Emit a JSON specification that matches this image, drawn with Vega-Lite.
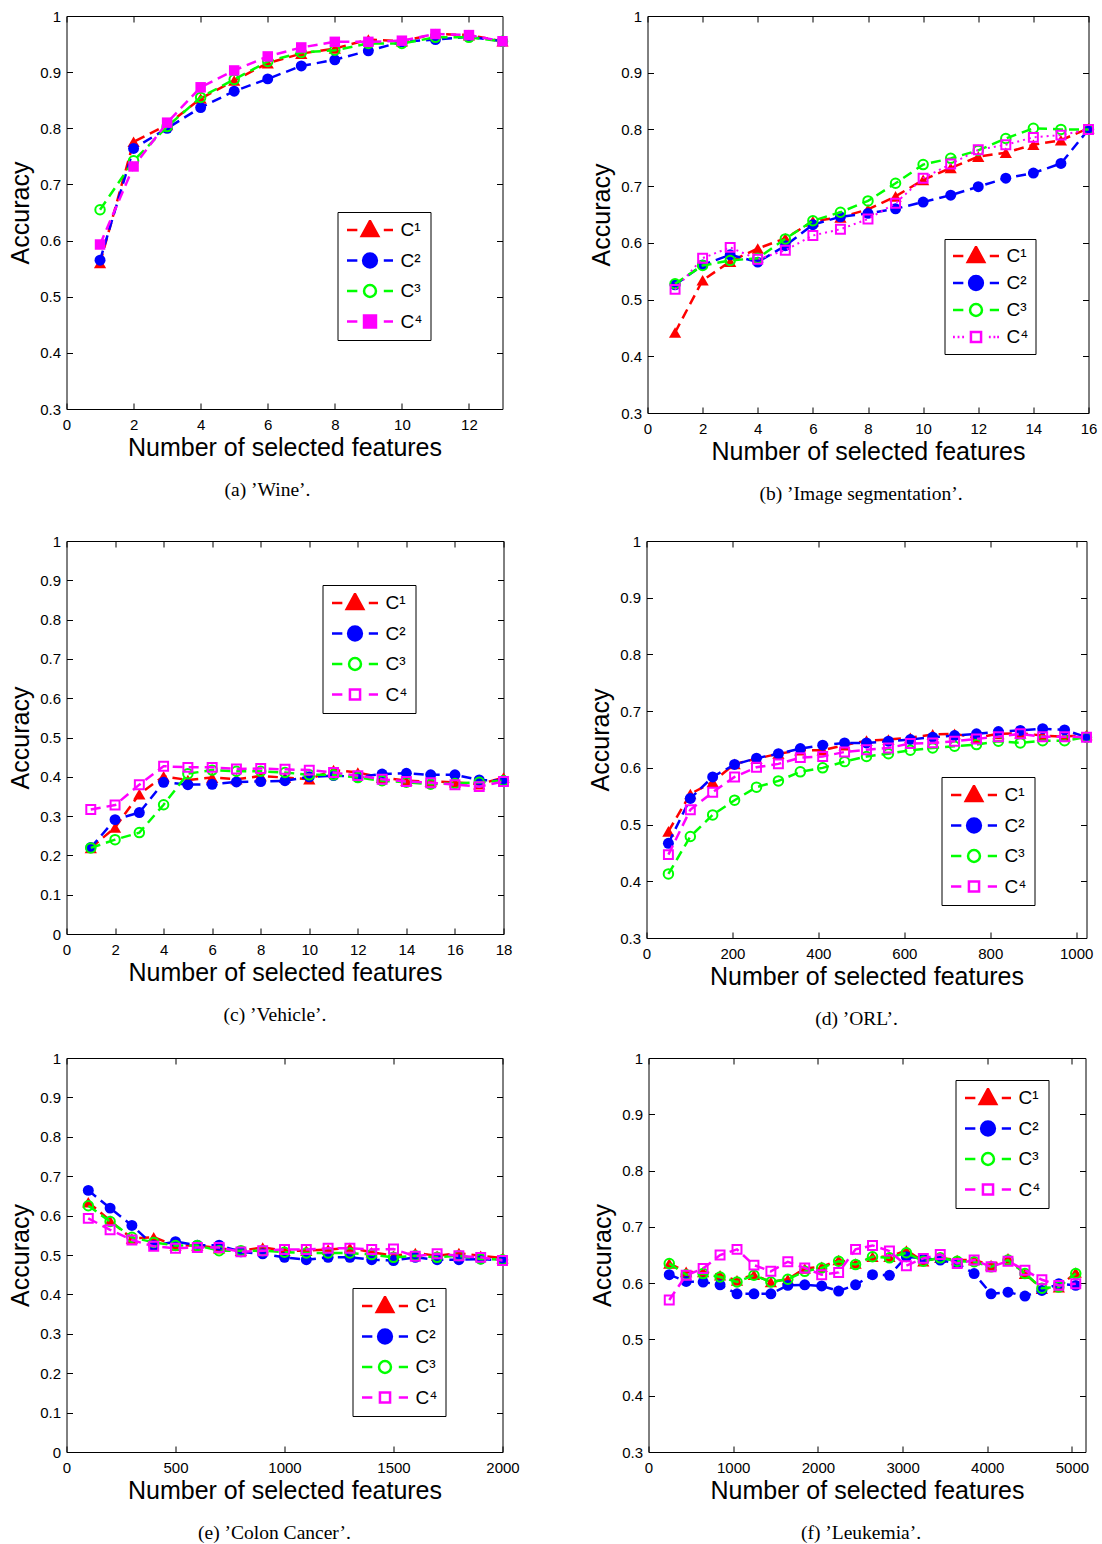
{
"$schema":"https://vega.github.io/schema/vega-lite/v6.json",
"background":"white",
"padding":{"left":7.5,"top":8,"right":5,"bottom":5},
"config":{
 "view":{"stroke":"black","strokeWidth":1},
 "axis":{"domain":false,"grid":false,"tickColor":"black","tickSize":-6,"tickWidth":1,"labelColor":"black","labelFont":"Liberation Sans","labelFontSize":15,"titleFont":"Liberation Sans","titleFontSize":25,"titleFontWeight":"normal","titleColor":"black","labelFlush":false,"labelOverlap":false,"labelBound":false},
 "axisBottom":{"labelPadding":14,"titlePadding":3},
 "axisLeft":{"labelPadding":12,"titlePadding":6.5},
 "title":{"font":"Liberation Serif","fontSize":19.5,"fontWeight":"normal","color":"black","orient":"bottom","frame":"group","anchor":"middle","offset":21},
 "legend":{"orient":"none","symbolSize":2116,"symbolStrokeWidth":2.5,"symbolOpacity":1,"clipHeight":20,"rowPadding":10.5,"labelFontSize":19,"labelFont":"Liberation Sans","labelColor":"black","labelOffset":6,"strokeColor":"black","fillColor":"white","padding":8,"cornerRadius":0}
},
"datasets":{
"a":[
{"x":1,"s":"C1","y":0.56},{"x":2,"s":"C1","y":0.776},{"x":3,"s":"C1","y":0.806},{"x":4,"s":"C1","y":0.853},{"x":5,"s":"C1","y":0.885},{"x":6,"s":"C1","y":0.916},{"x":7,"s":"C1","y":0.933},{"x":8,"s":"C1","y":0.942},{"x":9,"s":"C1","y":0.958},{"x":10,"s":"C1","y":0.955},{"x":11,"s":"C1","y":0.968},{"x":12,"s":"C1","y":0.966},{"x":13,"s":"C1","y":0.955},
{"x":1,"s":"C2","y":0.565},{"x":2,"s":"C2","y":0.764},{"x":3,"s":"C2","y":0.80},{"x":4,"s":"C2","y":0.837},{"x":5,"s":"C2","y":0.866},{"x":6,"s":"C2","y":0.888},{"x":7,"s":"C2","y":0.911},{"x":8,"s":"C2","y":0.922},{"x":9,"s":"C2","y":0.938},{"x":10,"s":"C2","y":0.954},{"x":11,"s":"C2","y":0.958},{"x":12,"s":"C2","y":0.963},{"x":13,"s":"C2","y":0.955},
{"x":1,"s":"C3","y":0.655},{"x":2,"s":"C3","y":0.742},{"x":3,"s":"C3","y":0.803},{"x":4,"s":"C3","y":0.855},{"x":5,"s":"C3","y":0.887},{"x":6,"s":"C3","y":0.919},{"x":7,"s":"C3","y":0.935},{"x":8,"s":"C3","y":0.939},{"x":9,"s":"C3","y":0.951},{"x":10,"s":"C3","y":0.951},{"x":11,"s":"C3","y":0.962},{"x":12,"s":"C3","y":0.962},{"x":13,"s":"C3","y":0.955},
{"x":1,"s":"C4","y":0.593},{"x":2,"s":"C4","y":0.732},{"x":3,"s":"C4","y":0.81},{"x":4,"s":"C4","y":0.873},{"x":5,"s":"C4","y":0.903},{"x":6,"s":"C4","y":0.928},{"x":7,"s":"C4","y":0.944},{"x":8,"s":"C4","y":0.954},{"x":9,"s":"C4","y":0.954},{"x":10,"s":"C4","y":0.956},{"x":11,"s":"C4","y":0.968},{"x":12,"s":"C4","y":0.966},{"x":13,"s":"C4","y":0.955}
],
"b":[
{"x":1,"s":"C1","y":0.442},{"x":2,"s":"C1","y":0.534},{"x":3,"s":"C1","y":0.567},{"x":4,"s":"C1","y":0.590},{"x":5,"s":"C1","y":0.608},{"x":6,"s":"C1","y":0.638},{"x":7,"s":"C1","y":0.645},{"x":8,"s":"C1","y":0.659},{"x":9,"s":"C1","y":0.682},{"x":10,"s":"C1","y":0.711},{"x":11,"s":"C1","y":0.732},{"x":12,"s":"C1","y":0.752},{"x":13,"s":"C1","y":0.759},{"x":14,"s":"C1","y":0.773},{"x":15,"s":"C1","y":0.781},{"x":16,"s":"C1","y":0.802},
{"x":1,"s":"C2","y":0.526},{"x":2,"s":"C2","y":0.561},{"x":3,"s":"C2","y":0.579},{"x":4,"s":"C2","y":0.566},{"x":5,"s":"C2","y":0.595},{"x":6,"s":"C2","y":0.632},{"x":7,"s":"C2","y":0.646},{"x":8,"s":"C2","y":0.652},{"x":9,"s":"C2","y":0.660},{"x":10,"s":"C2","y":0.672},{"x":11,"s":"C2","y":0.684},{"x":12,"s":"C2","y":0.699},{"x":13,"s":"C2","y":0.714},{"x":14,"s":"C2","y":0.723},{"x":15,"s":"C2","y":0.740},{"x":16,"s":"C2","y":0.800},
{"x":1,"s":"C3","y":0.528},{"x":2,"s":"C3","y":0.560},{"x":3,"s":"C3","y":0.569},{"x":4,"s":"C3","y":0.573},{"x":5,"s":"C3","y":0.607},{"x":6,"s":"C3","y":0.639},{"x":7,"s":"C3","y":0.654},{"x":8,"s":"C3","y":0.674},{"x":9,"s":"C3","y":0.705},{"x":10,"s":"C3","y":0.738},{"x":11,"s":"C3","y":0.749},{"x":12,"s":"C3","y":0.763},{"x":13,"s":"C3","y":0.784},{"x":14,"s":"C3","y":0.802},{"x":15,"s":"C3","y":0.800},{"x":16,"s":"C3","y":0.800},
{"x":1,"s":"C4","y":0.518},{"x":2,"s":"C4","y":0.573},{"x":3,"s":"C4","y":0.592},{"x":4,"s":"C4","y":0.571},{"x":5,"s":"C4","y":0.587},{"x":6,"s":"C4","y":0.613},{"x":7,"s":"C4","y":0.624},{"x":8,"s":"C4","y":0.642},{"x":9,"s":"C4","y":0.670},{"x":10,"s":"C4","y":0.714},{"x":11,"s":"C4","y":0.739},{"x":12,"s":"C4","y":0.764},{"x":13,"s":"C4","y":0.773},{"x":14,"s":"C4","y":0.786},{"x":15,"s":"C4","y":0.790},{"x":16,"s":"C4","y":0.800}
],
"c":[
{"x":1,"s":"C1","y":0.219},{"x":2,"s":"C1","y":0.271},{"x":3,"s":"C1","y":0.356},{"x":4,"s":"C1","y":0.401},{"x":5,"s":"C1","y":0.392},{"x":6,"s":"C1","y":0.398},{"x":7,"s":"C1","y":0.394},{"x":8,"s":"C1","y":0.402},{"x":9,"s":"C1","y":0.398},{"x":10,"s":"C1","y":0.394},{"x":11,"s":"C1","y":0.417},{"x":12,"s":"C1","y":0.411},{"x":13,"s":"C1","y":0.398},{"x":14,"s":"C1","y":0.390},{"x":15,"s":"C1","y":0.388},{"x":16,"s":"C1","y":0.386},{"x":17,"s":"C1","y":0.381},{"x":18,"s":"C1","y":0.398},
{"x":1,"s":"C2","y":0.220},{"x":2,"s":"C2","y":0.291},{"x":3,"s":"C2","y":0.309},{"x":4,"s":"C2","y":0.386},{"x":5,"s":"C2","y":0.380},{"x":6,"s":"C2","y":0.381},{"x":7,"s":"C2","y":0.387},{"x":8,"s":"C2","y":0.388},{"x":9,"s":"C2","y":0.390},{"x":10,"s":"C2","y":0.400},{"x":11,"s":"C2","y":0.403},{"x":12,"s":"C2","y":0.400},{"x":13,"s":"C2","y":0.407},{"x":14,"s":"C2","y":0.409},{"x":15,"s":"C2","y":0.405},{"x":16,"s":"C2","y":0.405},{"x":17,"s":"C2","y":0.392},{"x":18,"s":"C2","y":0.390},
{"x":1,"s":"C3","y":0.219},{"x":2,"s":"C3","y":0.240},{"x":3,"s":"C3","y":0.258},{"x":4,"s":"C3","y":0.329},{"x":5,"s":"C3","y":0.408},{"x":6,"s":"C3","y":0.417},{"x":7,"s":"C3","y":0.414},{"x":8,"s":"C3","y":0.414},{"x":9,"s":"C3","y":0.411},{"x":10,"s":"C3","y":0.405},{"x":11,"s":"C3","y":0.405},{"x":12,"s":"C3","y":0.398},{"x":13,"s":"C3","y":0.390},{"x":14,"s":"C3","y":0.386},{"x":15,"s":"C3","y":0.381},{"x":16,"s":"C3","y":0.383},{"x":17,"s":"C3","y":0.386},{"x":18,"s":"C3","y":0.390},
{"x":1,"s":"C4","y":0.317},{"x":2,"s":"C4","y":0.328},{"x":3,"s":"C4","y":0.380},{"x":4,"s":"C4","y":0.427},{"x":5,"s":"C4","y":0.424},{"x":6,"s":"C4","y":0.424},{"x":7,"s":"C4","y":0.420},{"x":8,"s":"C4","y":0.421},{"x":9,"s":"C4","y":0.419},{"x":10,"s":"C4","y":0.417},{"x":11,"s":"C4","y":0.411},{"x":12,"s":"C4","y":0.403},{"x":13,"s":"C4","y":0.394},{"x":14,"s":"C4","y":0.388},{"x":15,"s":"C4","y":0.385},{"x":16,"s":"C4","y":0.380},{"x":17,"s":"C4","y":0.375},{"x":18,"s":"C4","y":0.388}
],
"d":[
{"x":51,"s":"C1","y":0.488},{"x":102,"s":"C1","y":0.554},{"x":154,"s":"C1","y":0.575},{"x":205,"s":"C1","y":0.607},{"x":256,"s":"C1","y":0.616},{"x":307,"s":"C1","y":0.625},{"x":358,"s":"C1","y":0.631},{"x":410,"s":"C1","y":0.631},{"x":461,"s":"C1","y":0.640},{"x":512,"s":"C1","y":0.648},{"x":563,"s":"C1","y":0.650},{"x":614,"s":"C1","y":0.653},{"x":666,"s":"C1","y":0.659},{"x":717,"s":"C1","y":0.660},{"x":768,"s":"C1","y":0.653},{"x":819,"s":"C1","y":0.660},{"x":870,"s":"C1","y":0.661},{"x":922,"s":"C1","y":0.657},{"x":973,"s":"C1","y":0.655},{"x":1024,"s":"C1","y":0.658},
{"x":51,"s":"C2","y":0.467},{"x":102,"s":"C2","y":0.546},{"x":154,"s":"C2","y":0.584},{"x":205,"s":"C2","y":0.606},{"x":256,"s":"C2","y":0.617},{"x":307,"s":"C2","y":0.625},{"x":358,"s":"C2","y":0.634},{"x":410,"s":"C2","y":0.640},{"x":461,"s":"C2","y":0.644},{"x":512,"s":"C2","y":0.644},{"x":563,"s":"C2","y":0.647},{"x":614,"s":"C2","y":0.650},{"x":666,"s":"C2","y":0.654},{"x":717,"s":"C2","y":0.657},{"x":768,"s":"C2","y":0.660},{"x":819,"s":"C2","y":0.664},{"x":870,"s":"C2","y":0.666},{"x":922,"s":"C2","y":0.669},{"x":973,"s":"C2","y":0.667},{"x":1024,"s":"C2","y":0.654},
{"x":51,"s":"C3","y":0.413},{"x":102,"s":"C3","y":0.479},{"x":154,"s":"C3","y":0.517},{"x":205,"s":"C3","y":0.543},{"x":256,"s":"C3","y":0.566},{"x":307,"s":"C3","y":0.577},{"x":358,"s":"C3","y":0.593},{"x":410,"s":"C3","y":0.600},{"x":461,"s":"C3","y":0.611},{"x":512,"s":"C3","y":0.620},{"x":563,"s":"C3","y":0.625},{"x":614,"s":"C3","y":0.631},{"x":666,"s":"C3","y":0.635},{"x":717,"s":"C3","y":0.638},{"x":768,"s":"C3","y":0.641},{"x":819,"s":"C3","y":0.647},{"x":870,"s":"C3","y":0.644},{"x":922,"s":"C3","y":0.648},{"x":973,"s":"C3","y":0.648},{"x":1024,"s":"C3","y":0.654},
{"x":51,"s":"C4","y":0.447},{"x":102,"s":"C4","y":0.526},{"x":154,"s":"C4","y":0.557},{"x":205,"s":"C4","y":0.584},{"x":256,"s":"C4","y":0.601},{"x":307,"s":"C4","y":0.607},{"x":358,"s":"C4","y":0.618},{"x":410,"s":"C4","y":0.620},{"x":461,"s":"C4","y":0.628},{"x":512,"s":"C4","y":0.632},{"x":563,"s":"C4","y":0.635},{"x":614,"s":"C4","y":0.643},{"x":666,"s":"C4","y":0.644},{"x":717,"s":"C4","y":0.647},{"x":768,"s":"C4","y":0.651},{"x":819,"s":"C4","y":0.655},{"x":870,"s":"C4","y":0.660},{"x":922,"s":"C4","y":0.655},{"x":973,"s":"C4","y":0.655},{"x":1024,"s":"C4","y":0.654}
],
"e":[
{"x":100,"s":"C1","y":0.634},{"x":200,"s":"C1","y":0.587},{"x":300,"s":"C1","y":0.542},{"x":400,"s":"C1","y":0.545},{"x":500,"s":"C1","y":0.524},{"x":600,"s":"C1","y":0.524},{"x":700,"s":"C1","y":0.517},{"x":800,"s":"C1","y":0.511},{"x":900,"s":"C1","y":0.519},{"x":1000,"s":"C1","y":0.511},{"x":1100,"s":"C1","y":0.511},{"x":1200,"s":"C1","y":0.514},{"x":1300,"s":"C1","y":0.518},{"x":1400,"s":"C1","y":0.507},{"x":1500,"s":"C1","y":0.498},{"x":1600,"s":"C1","y":0.505},{"x":1700,"s":"C1","y":0.498},{"x":1800,"s":"C1","y":0.505},{"x":1900,"s":"C1","y":0.498},{"x":2000,"s":"C1","y":0.492},
{"x":100,"s":"C2","y":0.664},{"x":200,"s":"C2","y":0.619},{"x":300,"s":"C2","y":0.575},{"x":400,"s":"C2","y":0.524},{"x":500,"s":"C2","y":0.534},{"x":600,"s":"C2","y":0.525},{"x":700,"s":"C2","y":0.525},{"x":800,"s":"C2","y":0.508},{"x":900,"s":"C2","y":0.503},{"x":1000,"s":"C2","y":0.494},{"x":1100,"s":"C2","y":0.488},{"x":1200,"s":"C2","y":0.494},{"x":1300,"s":"C2","y":0.494},{"x":1400,"s":"C2","y":0.488},{"x":1500,"s":"C2","y":0.486},{"x":1600,"s":"C2","y":0.494},{"x":1700,"s":"C2","y":0.488},{"x":1800,"s":"C2","y":0.488},{"x":1900,"s":"C2","y":0.490},{"x":2000,"s":"C2","y":0.486},
{"x":100,"s":"C3","y":0.625},{"x":200,"s":"C3","y":0.585},{"x":300,"s":"C3","y":0.545},{"x":400,"s":"C3","y":0.532},{"x":500,"s":"C3","y":0.524},{"x":600,"s":"C3","y":0.524},{"x":700,"s":"C3","y":0.511},{"x":800,"s":"C3","y":0.511},{"x":900,"s":"C3","y":0.511},{"x":1000,"s":"C3","y":0.507},{"x":1100,"s":"C3","y":0.505},{"x":1200,"s":"C3","y":0.505},{"x":1300,"s":"C3","y":0.505},{"x":1400,"s":"C3","y":0.501},{"x":1500,"s":"C3","y":0.494},{"x":1600,"s":"C3","y":0.498},{"x":1700,"s":"C3","y":0.494},{"x":1800,"s":"C3","y":0.498},{"x":1900,"s":"C3","y":0.490},{"x":2000,"s":"C3","y":0.488},
{"x":100,"s":"C4","y":0.593},{"x":200,"s":"C4","y":0.564},{"x":300,"s":"C4","y":0.538},{"x":400,"s":"C4","y":0.522},{"x":500,"s":"C4","y":0.517},{"x":600,"s":"C4","y":0.519},{"x":700,"s":"C4","y":0.519},{"x":800,"s":"C4","y":0.508},{"x":900,"s":"C4","y":0.511},{"x":1000,"s":"C4","y":0.514},{"x":1100,"s":"C4","y":0.514},{"x":1200,"s":"C4","y":0.517},{"x":1300,"s":"C4","y":0.517},{"x":1400,"s":"C4","y":0.514},{"x":1500,"s":"C4","y":0.515},{"x":1600,"s":"C4","y":0.497},{"x":1700,"s":"C4","y":0.503},{"x":1800,"s":"C4","y":0.498},{"x":1900,"s":"C4","y":0.494},{"x":2000,"s":"C4","y":0.486}
],
"f":[
{"x":245,"s":"C1","y":0.635},{"x":445,"s":"C1","y":0.620},{"x":645,"s":"C1","y":0.620},{"x":845,"s":"C1","y":0.614},{"x":1045,"s":"C1","y":0.605},{"x":1245,"s":"C1","y":0.615},{"x":1445,"s":"C1","y":0.602},{"x":1645,"s":"C1","y":0.607},{"x":1845,"s":"C1","y":0.626},{"x":2045,"s":"C1","y":0.629},{"x":2245,"s":"C1","y":0.641},{"x":2445,"s":"C1","y":0.635},{"x":2645,"s":"C1","y":0.647},{"x":2845,"s":"C1","y":0.647},{"x":3045,"s":"C1","y":0.658},{"x":3245,"s":"C1","y":0.639},{"x":3445,"s":"C1","y":0.645},{"x":3645,"s":"C1","y":0.641},{"x":3845,"s":"C1","y":0.641},{"x":4045,"s":"C1","y":0.632},{"x":4245,"s":"C1","y":0.644},{"x":4445,"s":"C1","y":0.617},{"x":4645,"s":"C1","y":0.590},{"x":4845,"s":"C1","y":0.593},{"x":5045,"s":"C1","y":0.619},
{"x":245,"s":"C2","y":0.615},{"x":445,"s":"C2","y":0.603},{"x":645,"s":"C2","y":0.602},{"x":845,"s":"C2","y":0.597},{"x":1045,"s":"C2","y":0.581},{"x":1245,"s":"C2","y":0.581},{"x":1445,"s":"C2","y":0.581},{"x":1645,"s":"C2","y":0.596},{"x":1845,"s":"C2","y":0.597},{"x":2045,"s":"C2","y":0.595},{"x":2245,"s":"C2","y":0.586},{"x":2445,"s":"C2","y":0.597},{"x":2645,"s":"C2","y":0.615},{"x":2845,"s":"C2","y":0.614},{"x":3045,"s":"C2","y":0.647},{"x":3245,"s":"C2","y":0.644},{"x":3445,"s":"C2","y":0.641},{"x":3645,"s":"C2","y":0.635},{"x":3845,"s":"C2","y":0.617},{"x":4045,"s":"C2","y":0.581},{"x":4245,"s":"C2","y":0.584},{"x":4445,"s":"C2","y":0.577},{"x":4645,"s":"C2","y":0.587},{"x":4845,"s":"C2","y":0.599},{"x":5045,"s":"C2","y":0.596},
{"x":245,"s":"C3","y":0.635},{"x":445,"s":"C3","y":0.615},{"x":645,"s":"C3","y":0.617},{"x":845,"s":"C3","y":0.611},{"x":1045,"s":"C3","y":0.602},{"x":1245,"s":"C3","y":0.614},{"x":1445,"s":"C3","y":0.602},{"x":1645,"s":"C3","y":0.607},{"x":1845,"s":"C3","y":0.621},{"x":2045,"s":"C3","y":0.627},{"x":2245,"s":"C3","y":0.639},{"x":2445,"s":"C3","y":0.633},{"x":2645,"s":"C3","y":0.647},{"x":2845,"s":"C3","y":0.645},{"x":3045,"s":"C3","y":0.654},{"x":3245,"s":"C3","y":0.639},{"x":3445,"s":"C3","y":0.645},{"x":3645,"s":"C3","y":0.639},{"x":3845,"s":"C3","y":0.638},{"x":4045,"s":"C3","y":0.629},{"x":4245,"s":"C3","y":0.641},{"x":4445,"s":"C3","y":0.617},{"x":4645,"s":"C3","y":0.591},{"x":4845,"s":"C3","y":0.593},{"x":5045,"s":"C3","y":0.617},
{"x":245,"s":"C4","y":0.570},{"x":445,"s":"C4","y":0.614},{"x":645,"s":"C4","y":0.626},{"x":845,"s":"C4","y":0.650},{"x":1045,"s":"C4","y":0.660},{"x":1245,"s":"C4","y":0.632},{"x":1445,"s":"C4","y":0.621},{"x":1645,"s":"C4","y":0.638},{"x":1845,"s":"C4","y":0.627},{"x":2045,"s":"C4","y":0.615},{"x":2245,"s":"C4","y":0.619},{"x":2445,"s":"C4","y":0.660},{"x":2645,"s":"C4","y":0.667},{"x":2845,"s":"C4","y":0.657},{"x":3045,"s":"C4","y":0.631},{"x":3245,"s":"C4","y":0.644},{"x":3445,"s":"C4","y":0.651},{"x":3645,"s":"C4","y":0.635},{"x":3845,"s":"C4","y":0.641},{"x":4045,"s":"C4","y":0.629},{"x":4245,"s":"C4","y":0.639},{"x":4445,"s":"C4","y":0.623},{"x":4645,"s":"C4","y":0.606},{"x":4845,"s":"C4","y":0.596},{"x":5045,"s":"C4","y":0.599}
]
},
"spacing":29,
"resolve":{"scale":{"color":"independent","fill":"independent","shape":"independent"},"legend":{"color":"independent","fill":"independent","shape":"independent"}},
"vconcat":[
{"hconcat":[
 {"width":436,"height":393,"data":{"name":"a"},
  "title":{"text":"(a)  ’Wine’.","orient":"bottom","dx":-17},
  "encoding":{
   "x":{"field":"x","type":"quantitative","scale":{"domain":[0,13],"nice":false,"zero":false},"axis":null},
   "y":{"field":"y","type":"quantitative","scale":{"domain":[0.3,1],"nice":false,"zero":false},"axis":null}},
  "layer":[
   {"transform":[{"filter":"datum.s==='C1'"}],"mark":{"type":"line","color":"#ff0000","strokeWidth":2.5,"strokeDash":[10,6]},
    "encoding":{
     "x":{"field":"x","type":"quantitative","scale":{"domain":[0,13],"nice":false,"zero":false},"axis":{"orient":"bottom","values":[0,2,4,6,8,10,12],"format":"d","title":"Number of selected features"}},
     "y":{"field":"y","type":"quantitative","scale":{"domain":[0.3,1],"nice":false,"zero":false},"axis":{"orient":"left","values":[0.3,0.4,0.5,0.6,0.7,0.8,0.9,1],"format":"~g","title":"Accuracy"}}}},
   {"transform":[{"filter":"datum.s==='C1'"}],"mark":{"type":"point","shape":"triangle-up","filled":true,"color":"#ff0000","size":150,"opacity":1}},
   {"transform":[{"filter":"datum.s==='C2'"}],"mark":{"type":"line","color":"#0000ff","strokeWidth":2.5,"strokeDash":[10,6]}},
   {"transform":[{"filter":"datum.s==='C2'"}],"mark":{"type":"point","shape":"circle","filled":true,"color":"#0000ff","size":120,"opacity":1}},
   {"transform":[{"filter":"datum.s==='C3'"}],"mark":{"type":"line","color":"#00ff00","strokeWidth":2.5,"strokeDash":[10,6]}},
   {"transform":[{"filter":"datum.s==='C3'"}],"mark":{"type":"point","shape":"circle","filled":false,"color":"#00ff00","strokeWidth":2,"size":90,"opacity":1}},
   {"transform":[{"filter":"datum.s==='C4'"}],"mark":{"type":"line","color":"#ff00ff","strokeWidth":2.5,"strokeDash":[10,6]}},
   {"transform":[{"filter":"datum.s==='C4'"}],"mark":{"type":"point","shape":"square","filled":true,"color":"#ff00ff","size":110,"opacity":1}},
   {"mark":{"type":"point","opacity":0,"filled":false,"strokeWidth":2.5},
    "encoding":{
     "x":{"field":"x","type":"quantitative","scale":{"domain":[0,13],"nice":false,"zero":false},"axis":{"orient":"top","values":[0,2,4,6,8,10,12],"labels":false,"title":null}},
     "y":{"field":"y","type":"quantitative","scale":{"domain":[0.3,1],"nice":false,"zero":false},"axis":{"orient":"right","values":[0.3,0.4,0.5,0.6,0.7,0.8,0.9,1],"labels":false,"title":null}},
     "color":{"field":"s","type":"nominal","scale":{"domain":["C1","C2","C3","C4"],"range":["#ff0000","#0000ff","#00ff00","#ff00ff"]},"legend":{"title":null,"legendX":271,"legendY":196,"labelExpr":"{'C1':'C¹','C2':'C²','C3':'C³','C4':'C⁴'}[datum.label]"}},
     "fill":{"field":"s","type":"nominal","scale":{"domain":["C1","C2","C3","C4"],"range":["#ff0000","#0000ff","transparent","#ff00ff"]},"legend":{"title":null}},
     "shape":{"field":"s","type":"nominal","scale":{"domain":["C1","C2","C3","C4"],"range":["M-1,0H-0.55M0.6,0H1M0,-0.4L0.36,0.26L-0.36,0.26Z","M-1,0H-0.55M0.6,0H1M0.3,0A0.3,0.3,0,1,1,-0.3,0A0.3,0.3,0,1,1,0.3,0Z","M-1,0H-0.55M0.6,0H1M0.26,0A0.26,0.26,0,1,1,-0.26,0A0.26,0.26,0,1,1,0.26,0Z","M-1,0H-0.55M0.6,0H1M-0.26,-0.26H0.26V0.26H-0.26Z"]},"legend":{"title":null}}}}
  ],
  "resolve":{"axis":{"x":"independent","y":"independent"}}},
 {"width":441,"height":397,"data":{"name":"b"},
  "title":{"text":"(b)  ’Image segmentation’.","orient":"bottom","dx":-7},
  "encoding":{
   "x":{"field":"x","type":"quantitative","scale":{"domain":[0,16],"nice":false,"zero":false},"axis":null},
   "y":{"field":"y","type":"quantitative","scale":{"domain":[0.3,1],"nice":false,"zero":false},"axis":null}},
  "layer":[
   {"transform":[{"filter":"datum.s==='C1'"}],"mark":{"type":"line","color":"#ff0000","strokeWidth":2.5,"strokeDash":[10,6]},
    "encoding":{
     "x":{"field":"x","type":"quantitative","scale":{"domain":[0,16],"nice":false,"zero":false},"axis":{"orient":"bottom","values":[0,2,4,6,8,10,12,14,16],"format":"d","title":"Number of selected features"}},
     "y":{"field":"y","type":"quantitative","scale":{"domain":[0.3,1],"nice":false,"zero":false},"axis":{"orient":"left","values":[0.3,0.4,0.5,0.6,0.7,0.8,0.9,1],"format":"~g","title":"Accuracy"}}}},
   {"transform":[{"filter":"datum.s==='C1'"}],"mark":{"type":"point","shape":"triangle-up","filled":true,"color":"#ff0000","size":150,"opacity":1}},
   {"transform":[{"filter":"datum.s==='C2'"}],"mark":{"type":"line","color":"#0000ff","strokeWidth":2.5,"strokeDash":[10,6]}},
   {"transform":[{"filter":"datum.s==='C2'"}],"mark":{"type":"point","shape":"circle","filled":true,"color":"#0000ff","size":120,"opacity":1}},
   {"transform":[{"filter":"datum.s==='C3'"}],"mark":{"type":"line","color":"#00ff00","strokeWidth":2.5,"strokeDash":[10,6]}},
   {"transform":[{"filter":"datum.s==='C3'"}],"mark":{"type":"point","shape":"circle","filled":false,"color":"#00ff00","strokeWidth":2,"size":90,"opacity":1}},
   {"transform":[{"filter":"datum.s==='C4'"}],"mark":{"type":"line","color":"#ff00ff","strokeWidth":2,"strokeDash":[2,4]}},
   {"transform":[{"filter":"datum.s==='C4'"}],"mark":{"type":"point","shape":"square","filled":false,"color":"#ff00ff","strokeWidth":2,"size":80,"opacity":1}},
   {"mark":{"type":"point","opacity":0,"filled":false,"strokeWidth":2.5},
    "encoding":{
     "x":{"field":"x","type":"quantitative","scale":{"domain":[0,16],"nice":false,"zero":false},"axis":{"orient":"top","values":[0,2,4,6,8,10,12,14,16],"labels":false,"title":null}},
     "y":{"field":"y","type":"quantitative","scale":{"domain":[0.3,1],"nice":false,"zero":false},"axis":{"orient":"right","values":[0.3,0.4,0.5,0.6,0.7,0.8,0.9,1],"labels":false,"title":null}},
     "color":{"field":"s","type":"nominal","scale":{"domain":["C1","C2","C3","C4"],"range":["#ff0000","#0000ff","#00ff00","#ff00ff"]},"legend":{"title":null,"legendX":297,"legendY":223,"rowPadding":7,"padding":7,"labelExpr":"{'C1':'C¹','C2':'C²','C3':'C³','C4':'C⁴'}[datum.label]"}},
     "fill":{"field":"s","type":"nominal","scale":{"domain":["C1","C2","C3","C4"],"range":["#ff0000","#0000ff","transparent","transparent"]},"legend":{"title":null}},
     "shape":{"field":"s","type":"nominal","scale":{"domain":["C1","C2","C3","C4"],"range":["M-1,0H-0.55M0.6,0H1M0,-0.4L0.36,0.26L-0.36,0.26Z","M-1,0H-0.55M0.6,0H1M0.3,0A0.3,0.3,0,1,1,-0.3,0A0.3,0.3,0,1,1,0.3,0Z","M-1,0H-0.55M0.6,0H1M0.26,0A0.26,0.26,0,1,1,-0.26,0A0.26,0.26,0,1,1,0.26,0Z","M-1,0H-0.92M-0.8,0H-0.72M-0.6,0H-0.52M0.56,0H0.64M0.76,0H0.84M0.92,0H1M-0.22,-0.22H0.22V0.22H-0.22Z"]},"legend":{"title":null}}}}
  ],
  "resolve":{"axis":{"x":"independent","y":"independent"}}}
 ],
 "spacing":76,
 "resolve":{"scale":{"color":"independent","fill":"independent","shape":"independent"},"legend":{"color":"independent","fill":"independent","shape":"independent"}}},
{"vconcat":[
 {"hconcat":[
  {"width":437,"height":393,"data":{"name":"c"},
   "title":{"text":"(c)  ’Vehicle’.","orient":"bottom","dx":-10},
   "encoding":{
    "x":{"field":"x","type":"quantitative","scale":{"domain":[0,18],"nice":false,"zero":false},"axis":null},
    "y":{"field":"y","type":"quantitative","scale":{"domain":[0,1],"nice":false,"zero":false},"axis":null}},
   "layer":[
    {"transform":[{"filter":"datum.s==='C1'"}],"mark":{"type":"line","color":"#ff0000","strokeWidth":2.5,"strokeDash":[10,6]},
     "encoding":{
      "x":{"field":"x","type":"quantitative","scale":{"domain":[0,18],"nice":false,"zero":false},"axis":{"orient":"bottom","values":[0,2,4,6,8,10,12,14,16,18],"format":"d","title":"Number of selected features"}},
      "y":{"field":"y","type":"quantitative","scale":{"domain":[0,1],"nice":false,"zero":false},"axis":{"orient":"left","values":[0,0.1,0.2,0.3,0.4,0.5,0.6,0.7,0.8,0.9,1],"format":"~g","title":"Accuracy"}}}},
    {"transform":[{"filter":"datum.s==='C1'"}],"mark":{"type":"point","shape":"triangle-up","filled":true,"color":"#ff0000","size":150,"opacity":1}},
    {"transform":[{"filter":"datum.s==='C2'"}],"mark":{"type":"line","color":"#0000ff","strokeWidth":2.5,"strokeDash":[10,6]}},
    {"transform":[{"filter":"datum.s==='C2'"}],"mark":{"type":"point","shape":"circle","filled":true,"color":"#0000ff","size":120,"opacity":1}},
    {"transform":[{"filter":"datum.s==='C3'"}],"mark":{"type":"line","color":"#00ff00","strokeWidth":2.5,"strokeDash":[10,6]}},
    {"transform":[{"filter":"datum.s==='C3'"}],"mark":{"type":"point","shape":"circle","filled":false,"color":"#00ff00","strokeWidth":2,"size":90,"opacity":1}},
    {"transform":[{"filter":"datum.s==='C4'"}],"mark":{"type":"line","color":"#ff00ff","strokeWidth":2.5,"strokeDash":[10,6]}},
    {"transform":[{"filter":"datum.s==='C4'"}],"mark":{"type":"point","shape":"square","filled":false,"color":"#ff00ff","strokeWidth":2,"size":80,"opacity":1}},
    {"mark":{"type":"point","opacity":0,"filled":false,"strokeWidth":2.5},
     "encoding":{
      "x":{"field":"x","type":"quantitative","scale":{"domain":[0,18],"nice":false,"zero":false},"axis":{"orient":"top","values":[0,2,4,6,8,10,12,14,16,18],"labels":false,"title":null}},
      "y":{"field":"y","type":"quantitative","scale":{"domain":[0,1],"nice":false,"zero":false},"axis":{"orient":"right","values":[0,0.1,0.2,0.3,0.4,0.5,0.6,0.7,0.8,0.9,1],"labels":false,"title":null}},
      "color":{"field":"s","type":"nominal","scale":{"domain":["C1","C2","C3","C4"],"range":["#ff0000","#0000ff","#00ff00","#ff00ff"]},"legend":{"title":null,"legendX":256,"legendY":44,"labelExpr":"{'C1':'C¹','C2':'C²','C3':'C³','C4':'C⁴'}[datum.label]"}},
      "fill":{"field":"s","type":"nominal","scale":{"domain":["C1","C2","C3","C4"],"range":["#ff0000","#0000ff","transparent","transparent"]},"legend":{"title":null}},
      "shape":{"field":"s","type":"nominal","scale":{"domain":["C1","C2","C3","C4"],"range":["M-1,0H-0.55M0.6,0H1M0,-0.4L0.36,0.26L-0.36,0.26Z","M-1,0H-0.55M0.6,0H1M0.3,0A0.3,0.3,0,1,1,-0.3,0A0.3,0.3,0,1,1,0.3,0Z","M-1,0H-0.55M0.6,0H1M0.26,0A0.26,0.26,0,1,1,-0.26,0A0.26,0.26,0,1,1,0.26,0Z","M-1,0H-0.55M0.6,0H1M-0.22,-0.22H0.22V0.22H-0.22Z"]},"legend":{"title":null}}}}
   ],
   "resolve":{"axis":{"x":"independent","y":"independent"}}},
  {"width":440,"height":397,"data":{"name":"d"},
   "title":{"text":"(d)  ’ORL’.","orient":"bottom","dx":-10},
   "encoding":{
    "x":{"field":"x","type":"quantitative","scale":{"domain":[0,1024],"nice":false,"zero":false},"axis":null},
    "y":{"field":"y","type":"quantitative","scale":{"domain":[0.3,1],"nice":false,"zero":false},"axis":null}},
   "layer":[
    {"transform":[{"filter":"datum.s==='C1'"}],"mark":{"type":"line","color":"#ff0000","strokeWidth":2.5,"strokeDash":[10,6]},
     "encoding":{
      "x":{"field":"x","type":"quantitative","scale":{"domain":[0,1024],"nice":false,"zero":false},"axis":{"orient":"bottom","values":[0,200,400,600,800,1000],"format":"d","title":"Number of selected features"}},
      "y":{"field":"y","type":"quantitative","scale":{"domain":[0.3,1],"nice":false,"zero":false},"axis":{"orient":"left","values":[0.3,0.4,0.5,0.6,0.7,0.8,0.9,1],"format":"~g","title":"Accuracy"}}}},
    {"transform":[{"filter":"datum.s==='C1'"}],"mark":{"type":"point","shape":"triangle-up","filled":true,"color":"#ff0000","size":150,"opacity":1}},
    {"transform":[{"filter":"datum.s==='C2'"}],"mark":{"type":"line","color":"#0000ff","strokeWidth":2.5,"strokeDash":[10,6]}},
    {"transform":[{"filter":"datum.s==='C2'"}],"mark":{"type":"point","shape":"circle","filled":true,"color":"#0000ff","size":120,"opacity":1}},
    {"transform":[{"filter":"datum.s==='C3'"}],"mark":{"type":"line","color":"#00ff00","strokeWidth":2.5,"strokeDash":[10,6]}},
    {"transform":[{"filter":"datum.s==='C3'"}],"mark":{"type":"point","shape":"circle","filled":false,"color":"#00ff00","strokeWidth":2,"size":90,"opacity":1}},
    {"transform":[{"filter":"datum.s==='C4'"}],"mark":{"type":"line","color":"#ff00ff","strokeWidth":2.5,"strokeDash":[10,6]}},
    {"transform":[{"filter":"datum.s==='C4'"}],"mark":{"type":"point","shape":"square","filled":false,"color":"#ff00ff","strokeWidth":2,"size":80,"opacity":1}},
    {"mark":{"type":"point","opacity":0,"filled":false,"strokeWidth":2.5},
     "encoding":{
      "x":{"field":"x","type":"quantitative","scale":{"domain":[0,1024],"nice":false,"zero":false},"axis":{"orient":"top","values":[0,200,400,600,800,1000],"labels":false,"title":null}},
      "y":{"field":"y","type":"quantitative","scale":{"domain":[0.3,1],"nice":false,"zero":false},"axis":{"orient":"right","values":[0.3,0.4,0.5,0.6,0.7,0.8,0.9,1],"labels":false,"title":null}},
      "color":{"field":"s","type":"nominal","scale":{"domain":["C1","C2","C3","C4"],"range":["#ff0000","#0000ff","#00ff00","#ff00ff"]},"legend":{"title":null,"legendX":295,"legendY":236,"labelExpr":"{'C1':'C¹','C2':'C²','C3':'C³','C4':'C⁴'}[datum.label]"}},
      "fill":{"field":"s","type":"nominal","scale":{"domain":["C1","C2","C3","C4"],"range":["#ff0000","#0000ff","transparent","transparent"]},"legend":{"title":null}},
      "shape":{"field":"s","type":"nominal","scale":{"domain":["C1","C2","C3","C4"],"range":["M-1,0H-0.55M0.6,0H1M0,-0.4L0.36,0.26L-0.36,0.26Z","M-1,0H-0.55M0.6,0H1M0.3,0A0.3,0.3,0,1,1,-0.3,0A0.3,0.3,0,1,1,0.3,0Z","M-1,0H-0.55M0.6,0H1M0.26,0A0.26,0.26,0,1,1,-0.26,0A0.26,0.26,0,1,1,0.26,0Z","M-1,0H-0.55M0.6,0H1M-0.22,-0.22H0.22V0.22H-0.22Z"]},"legend":{"title":null}}}}
   ],
   "resolve":{"axis":{"x":"independent","y":"independent"}}}
  ],
  "spacing":74,
  "resolve":{"scale":{"color":"independent","fill":"independent","shape":"independent"},"legend":{"color":"independent","fill":"independent","shape":"independent"}}},
 {"hconcat":[
  {"width":436,"height":394,"data":{"name":"e"},
   "title":{"text":"(e)  ’Colon Cancer’.","orient":"bottom","dx":-10},
   "encoding":{
    "x":{"field":"x","type":"quantitative","scale":{"domain":[0,2000],"nice":false,"zero":false},"axis":null},
    "y":{"field":"y","type":"quantitative","scale":{"domain":[0,1],"nice":false,"zero":false},"axis":null}},
   "layer":[
    {"transform":[{"filter":"datum.s==='C1'"}],"mark":{"type":"line","color":"#ff0000","strokeWidth":2.5,"strokeDash":[10,6]},
     "encoding":{
      "x":{"field":"x","type":"quantitative","scale":{"domain":[0,2000],"nice":false,"zero":false},"axis":{"orient":"bottom","values":[0,500,1000,1500,2000],"format":"d","title":"Number of selected features"}},
      "y":{"field":"y","type":"quantitative","scale":{"domain":[0,1],"nice":false,"zero":false},"axis":{"orient":"left","values":[0,0.1,0.2,0.3,0.4,0.5,0.6,0.7,0.8,0.9,1],"format":"~g","title":"Accuracy"}}}},
    {"transform":[{"filter":"datum.s==='C1'"}],"mark":{"type":"point","shape":"triangle-up","filled":true,"color":"#ff0000","size":150,"opacity":1}},
    {"transform":[{"filter":"datum.s==='C2'"}],"mark":{"type":"line","color":"#0000ff","strokeWidth":2.5,"strokeDash":[10,6]}},
    {"transform":[{"filter":"datum.s==='C2'"}],"mark":{"type":"point","shape":"circle","filled":true,"color":"#0000ff","size":120,"opacity":1}},
    {"transform":[{"filter":"datum.s==='C3'"}],"mark":{"type":"line","color":"#00ff00","strokeWidth":2.5,"strokeDash":[10,6]}},
    {"transform":[{"filter":"datum.s==='C3'"}],"mark":{"type":"point","shape":"circle","filled":false,"color":"#00ff00","strokeWidth":2,"size":90,"opacity":1}},
    {"transform":[{"filter":"datum.s==='C4'"}],"mark":{"type":"line","color":"#ff00ff","strokeWidth":2.5,"strokeDash":[10,6]}},
    {"transform":[{"filter":"datum.s==='C4'"}],"mark":{"type":"point","shape":"square","filled":false,"color":"#ff00ff","strokeWidth":2,"size":80,"opacity":1}},
    {"mark":{"type":"point","opacity":0,"filled":false,"strokeWidth":2.5},
     "encoding":{
      "x":{"field":"x","type":"quantitative","scale":{"domain":[0,2000],"nice":false,"zero":false},"axis":{"orient":"top","values":[0,500,1000,1500,2000],"labels":false,"title":null}},
      "y":{"field":"y","type":"quantitative","scale":{"domain":[0,1],"nice":false,"zero":false},"axis":{"orient":"right","values":[0,0.1,0.2,0.3,0.4,0.5,0.6,0.7,0.8,0.9,1],"labels":false,"title":null}},
      "color":{"field":"s","type":"nominal","scale":{"domain":["C1","C2","C3","C4"],"range":["#ff0000","#0000ff","#00ff00","#ff00ff"]},"legend":{"title":null,"legendX":286,"legendY":230,"labelExpr":"{'C1':'C¹','C2':'C²','C3':'C³','C4':'C⁴'}[datum.label]"}},
      "fill":{"field":"s","type":"nominal","scale":{"domain":["C1","C2","C3","C4"],"range":["#ff0000","#0000ff","transparent","transparent"]},"legend":{"title":null}},
      "shape":{"field":"s","type":"nominal","scale":{"domain":["C1","C2","C3","C4"],"range":["M-1,0H-0.55M0.6,0H1M0,-0.4L0.36,0.26L-0.36,0.26Z","M-1,0H-0.55M0.6,0H1M0.3,0A0.3,0.3,0,1,1,-0.3,0A0.3,0.3,0,1,1,0.3,0Z","M-1,0H-0.55M0.6,0H1M0.26,0A0.26,0.26,0,1,1,-0.26,0A0.26,0.26,0,1,1,0.26,0Z","M-1,0H-0.55M0.6,0H1M-0.22,-0.22H0.22V0.22H-0.22Z"]},"legend":{"title":null}}}}
   ],
   "resolve":{"axis":{"x":"independent","y":"independent"}}},
  {"width":437,"height":394,"data":{"name":"f"},
   "title":{"text":"(f)  ’Leukemia’.","orient":"bottom","dx":-6},
   "encoding":{
    "x":{"field":"x","type":"quantitative","scale":{"domain":[0,5160],"nice":false,"zero":false},"axis":null},
    "y":{"field":"y","type":"quantitative","scale":{"domain":[0.3,1],"nice":false,"zero":false},"axis":null}},
   "layer":[
    {"transform":[{"filter":"datum.s==='C1'"}],"mark":{"type":"line","color":"#ff0000","strokeWidth":2.5,"strokeDash":[10,6]},
     "encoding":{
      "x":{"field":"x","type":"quantitative","scale":{"domain":[0,5160],"nice":false,"zero":false},"axis":{"orient":"bottom","values":[0,1000,2000,3000,4000,5000],"format":"d","title":"Number of selected features"}},
      "y":{"field":"y","type":"quantitative","scale":{"domain":[0.3,1],"nice":false,"zero":false},"axis":{"orient":"left","values":[0.3,0.4,0.5,0.6,0.7,0.8,0.9,1],"format":"~g","title":"Accuracy"}}}},
    {"transform":[{"filter":"datum.s==='C1'"}],"mark":{"type":"point","shape":"triangle-up","filled":true,"color":"#ff0000","size":150,"opacity":1}},
    {"transform":[{"filter":"datum.s==='C2'"}],"mark":{"type":"line","color":"#0000ff","strokeWidth":2.5,"strokeDash":[10,6]}},
    {"transform":[{"filter":"datum.s==='C2'"}],"mark":{"type":"point","shape":"circle","filled":true,"color":"#0000ff","size":120,"opacity":1}},
    {"transform":[{"filter":"datum.s==='C3'"}],"mark":{"type":"line","color":"#00ff00","strokeWidth":2.5,"strokeDash":[10,6]}},
    {"transform":[{"filter":"datum.s==='C3'"}],"mark":{"type":"point","shape":"circle","filled":false,"color":"#00ff00","strokeWidth":2,"size":90,"opacity":1}},
    {"transform":[{"filter":"datum.s==='C4'"}],"mark":{"type":"line","color":"#ff00ff","strokeWidth":2.5,"strokeDash":[10,6]}},
    {"transform":[{"filter":"datum.s==='C4'"}],"mark":{"type":"point","shape":"square","filled":false,"color":"#ff00ff","strokeWidth":2,"size":80,"opacity":1}},
    {"mark":{"type":"point","opacity":0,"filled":false,"strokeWidth":2.5},
     "encoding":{
      "x":{"field":"x","type":"quantitative","scale":{"domain":[0,5160],"nice":false,"zero":false},"axis":{"orient":"top","values":[0,1000,2000,3000,4000,5000],"labels":false,"title":null}},
      "y":{"field":"y","type":"quantitative","scale":{"domain":[0.3,1],"nice":false,"zero":false},"axis":{"orient":"right","values":[0.3,0.4,0.5,0.6,0.7,0.8,0.9,1],"labels":false,"title":null}},
      "color":{"field":"s","type":"nominal","scale":{"domain":["C1","C2","C3","C4"],"range":["#ff0000","#0000ff","#00ff00","#ff00ff"]},"legend":{"title":null,"legendX":307,"legendY":22,"labelExpr":"{'C1':'C¹','C2':'C²','C3':'C³','C4':'C⁴'}[datum.label]"}},
      "fill":{"field":"s","type":"nominal","scale":{"domain":["C1","C2","C3","C4"],"range":["#ff0000","#0000ff","transparent","transparent"]},"legend":{"title":null}},
      "shape":{"field":"s","type":"nominal","scale":{"domain":["C1","C2","C3","C4"],"range":["M-1,0H-0.55M0.6,0H1M0,-0.4L0.36,0.26L-0.36,0.26Z","M-1,0H-0.55M0.6,0H1M0.3,0A0.3,0.3,0,1,1,-0.3,0A0.3,0.3,0,1,1,0.3,0Z","M-1,0H-0.55M0.6,0H1M0.26,0A0.26,0.26,0,1,1,-0.26,0A0.26,0.26,0,1,1,0.26,0Z","M-1,0H-0.55M0.6,0H1M-0.22,-0.22H0.22V0.22H-0.22Z"]},"legend":{"title":null}}}}
   ],
   "resolve":{"axis":{"x":"independent","y":"independent"}}}
  ],
  "spacing":69,
  "resolve":{"scale":{"color":"independent","fill":"independent","shape":"independent"},"legend":{"color":"independent","fill":"independent","shape":"independent"}}}
 ],
 "spacing":21,
 "resolve":{"scale":{"color":"independent","fill":"independent","shape":"independent"},"legend":{"color":"independent","fill":"independent","shape":"independent"}}}
]
}
